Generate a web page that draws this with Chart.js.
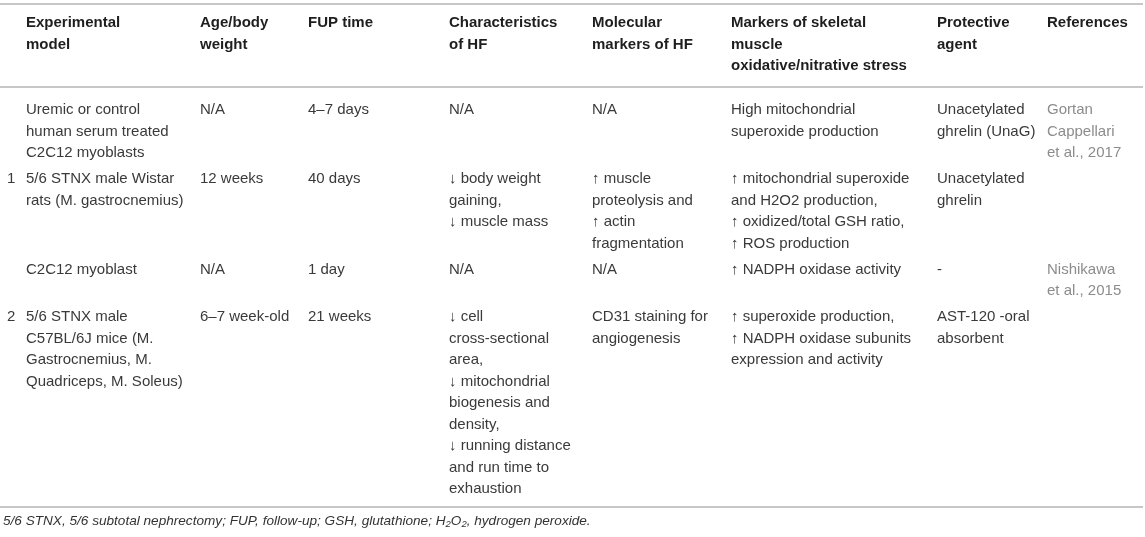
<!DOCTYPE html>
<html>
<head>
<meta charset="utf-8">
<script src="https://cdn.jsdelivr.net/npm/chart.js@4.4.0/dist/chart.umd.min.js"></script>
<style>
  html, body { margin: 0; padding: 0; background: #fff; }
</style>
</head>
<body>
<canvas id="tableChart" width="1145" height="537"></canvas>
<script>
// table content, one array per column, one entry per row (each entry = wrapped lines)
const columnHeaders = [
  ['Experimental', 'model'],
  ['Age/body', 'weight'],
  ['FUP time'],
  ['Characteristics', 'of HF'],
  ['Molecular', 'markers of HF'],
  ['Markers of skeletal', 'muscle', 'oxidative/nitrative stress'],
  ['Protective', 'agent'],
  ['References']
];
const rowNumbers = [[], ['1'], [], ['2']];
const experimentalModel = [
  ['Uremic or control', 'human serum treated', 'C2C12 myoblasts'],
  ['5/6 STNX male Wistar', 'rats (M. gastrocnemius)'],
  ['C2C12 myoblast'],
  ['5/6 STNX male', 'C57BL/6J mice (M.', 'Gastrocnemius, M.', 'Quadriceps, M. Soleus)']
];
const ageBodyWeight = [['N/A'], ['12 weeks'], ['N/A'], ['6–7 week-old']];
const fupTime = [['4–7 days'], ['40 days'], ['1 day'], ['21 weeks']];
const characteristicsOfHF = [
  ['N/A'],
  ['↓ body weight', 'gaining,', '↓ muscle mass'],
  ['N/A'],
  ['↓ cell', 'cross-sectional', 'area,', '↓ mitochondrial', 'biogenesis and', 'density,',
   '↓ running distance', 'and run time to', 'exhaustion']
];
const molecularMarkers = [
  ['N/A'],
  ['↑ muscle', 'proteolysis and', '↑ actin', 'fragmentation'],
  ['N/A'],
  ['CD31 staining for', 'angiogenesis']
];
const stressMarkers = [
  ['High mitochondrial', 'superoxide production'],
  ['↑ mitochondrial superoxide', 'and H2O2 production,', '↑ oxidized/total GSH ratio,', '↑ ROS production'],
  ['↑ NADPH oxidase activity'],
  ['↑ superoxide production,', '↑ NADPH oxidase subunits', 'expression and activity']
];
const protectiveAgent = [['Unacetylated', 'ghrelin (UnaG)'], ['Unacetylated', 'ghrelin'], ['-'], ['AST-120 -oral', 'absorbent']];
const references = [['Gortan', 'Cappellari', 'et al., 2017'], [], ['Nishikawa', 'et al., 2015'], []];
const footnote = [
  { text: '5/6 STNX, 5/6 subtotal nephrectomy; FUP, follow-up; GSH, glutathione; H' },
  { text: '2', sub: true },
  { text: 'O' },
  { text: '2', sub: true },
  { text: ', hydrogen peroxide.' }
];

// layout (value units = canvas pixels)
const COL_LEFT = [7, 26, 200, 308, 449, 592, 731, 937, 1047];
const HEADER_TOP = 23;
const BODY_TOP = 110;
const LINE_H = 21.5;
const ROW_GAP = 4.5;
const RULE_TOP = 4;
const RULE_HEAD = 87;
const RULE_AFTER_LAST = 18;
const FOOT_GAP = 14;
const TABLE_RIGHT = 1143;

const bodyColumns = [experimentalModel, ageBodyWeight, fupTime, characteristicsOfHF,
  molecularMarkers, stressMarkers, protectiveAgent];

// row tops from the number of lines in each row
const rowCount = experimentalModel.length;
const allColumns = [rowNumbers, ...bodyColumns, references];
const rowTops = [];
let cursor = BODY_TOP;
for (let r = 0; r < rowCount; r++) {
  rowTops.push(cursor);
  const lines = Math.max(...allColumns.map(col => col[r].length));
  cursor += lines * LINE_H + ROW_GAP;
}
const lastRowLines = Math.max(...allColumns.map(col => col[rowCount - 1].length));
const ruleBottom = rowTops[rowCount - 1] + (lastRowLines - 1) * LINE_H + RULE_AFTER_LAST;

const headerCells = columnHeaders.map((lines, c) => ({ x: COL_LEFT[c + 1], y: HEADER_TOP, lines }));
const bodyCells = [];
[rowNumbers, ...bodyColumns].forEach((col, c) => {
  col.forEach((lines, r) => bodyCells.push({ x: COL_LEFT[c], y: rowTops[r], lines }));
});
const refCells = references.map((lines, r) => ({ x: COL_LEFT[8], y: rowTops[r], lines }));

const FONT = '"Liberation Sans", Arial, Helvetica, sans-serif';

const tableText = {
  id: 'tableText',
  afterDatasetsDraw(chart) {
    const { ctx, scales: { x, y } } = chart;
    const lineH = y.getPixelForValue(LINE_H) - y.getPixelForValue(0);
    ctx.save();

    // horizontal rules
    ctx.strokeStyle = '#b4b4b4';
    ctx.lineWidth = 1.6;
    [RULE_TOP, RULE_HEAD, ruleBottom].forEach((v) => {
      const py = y.getPixelForValue(v);
      ctx.beginPath();
      ctx.moveTo(x.getPixelForValue(0), py);
      ctx.lineTo(x.getPixelForValue(TABLE_RIGHT), py);
      ctx.stroke();
    });

    // cell text, anchored on the point elements
    ctx.textBaseline = 'middle';
    ctx.textAlign = 'left';
    chart.data.datasets.forEach((ds, i) => {
      const meta = chart.getDatasetMeta(i);
      ctx.font = ds.textFont;
      ctx.fillStyle = ds.textColor;
      meta.data.forEach((pt, j) => {
        ds.data[j].lines.forEach((line, k) => {
          ctx.fillText(line, pt.x, pt.y + k * lineH);
        });
      });
    });

    // footnote
    let fx = x.getPixelForValue(3);
    const fy = y.getPixelForValue(ruleBottom + FOOT_GAP);
    ctx.fillStyle = '#333';
    footnote.forEach((seg) => {
      ctx.font = seg.sub ? 'italic 9.5px ' + FONT : 'italic 13.6px ' + FONT;
      ctx.fillText(seg.text, fx, seg.sub ? fy + 3 : fy);
      fx += ctx.measureText(seg.text).width;
    });
    ctx.restore();
  }
};

new Chart(document.getElementById('tableChart'), {
  type: 'scatter',
  data: {
    datasets: [
      { label: 'header', data: headerCells, textFont: 'bold 15px ' + FONT, textColor: '#1e1e1e', pointRadius: 0 },
      { label: 'body', data: bodyCells, textFont: '15px ' + FONT, textColor: '#3a3a3a', pointRadius: 0 },
      { label: 'references', data: refCells, textFont: '15px ' + FONT, textColor: '#8c8c8c', pointRadius: 0 }
    ]
  },
  options: {
    responsive: false,
    animation: false,
    events: [],
    layout: { padding: 0 },
    plugins: {
      legend: { display: false },
      tooltip: { enabled: false }
    },
    scales: {
      x: { type: 'linear', min: 0, max: 1145, display: false },
      y: { type: 'linear', min: 0, max: 537, reverse: true, display: false }
    }
  },
  plugins: [tableText]
});
</script>
</body>
</html>
